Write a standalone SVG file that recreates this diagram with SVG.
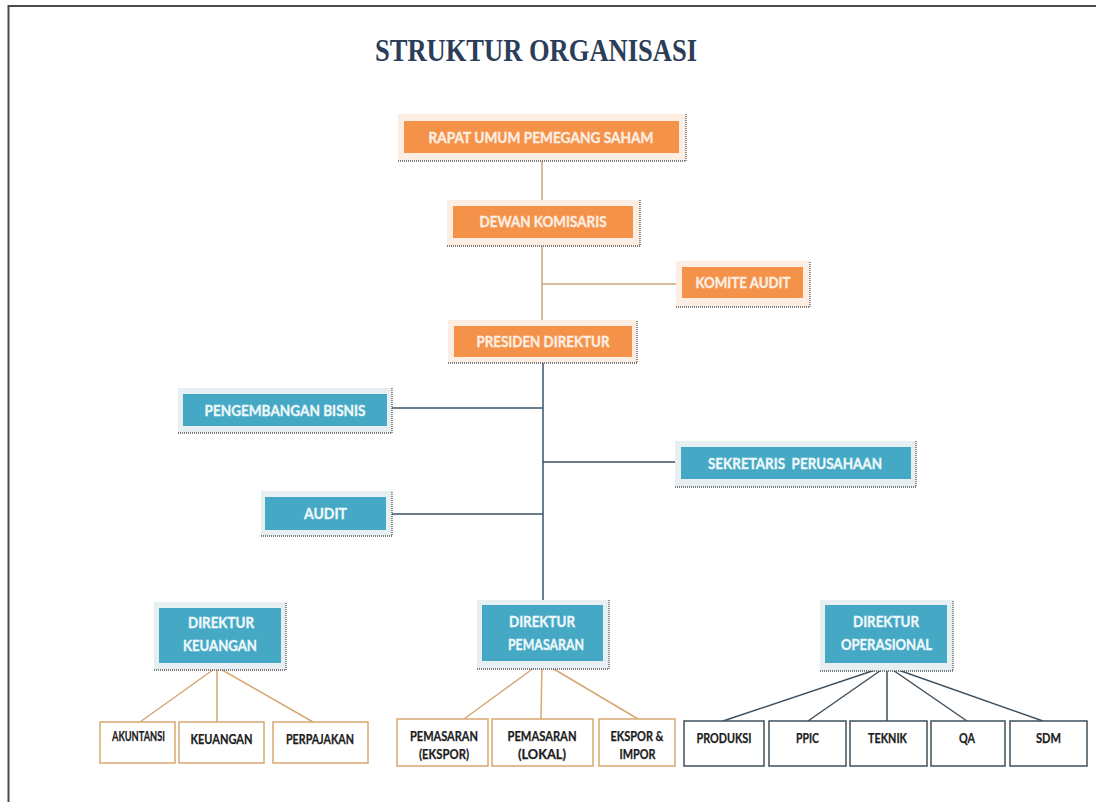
<svg xmlns="http://www.w3.org/2000/svg" width="1096" height="802" viewBox="0 0 1096 802">
  <style>
    .frame { fill: none; stroke: #4a4a4a; stroke-width: 2; }
    .title { font-family: "Liberation Serif", serif; font-weight: 700; font-size: 32px; fill: #2B3D58; text-anchor: middle; }
    .glowO { fill: #FCEEE3; }
    .glowB { fill: #E7EFF3; }
    .orange { fill: #F5924A; }
    .blue { fill: #45A8C4; }
    .dots { fill: none; stroke: #555555; stroke-width: 1.3; stroke-dasharray: 1 1; }
    .lbl { font-family: Lato, "Liberation Sans", sans-serif; font-weight: 700; font-size: 16px; text-anchor: middle; stroke-width: 0.35; }
    .lblO { fill: #FDEEE2; stroke: #FDEEE2; }
    .lblB { fill: #EEF8FB; stroke: #EEF8FB; }
    .boxT { fill: #ffffff; stroke: #D9A770; stroke-width: 1.5; }
    .boxD { fill: #ffffff; stroke: #3E505E; stroke-width: 1.5; }
    .ct { font-family: Lato, "Liberation Sans", sans-serif; font-weight: 700; font-size: 13px; fill: #1c1c1c; stroke: #1c1c1c; stroke-width: 0.25; text-anchor: middle; }
    .lnO { fill: none; stroke: #CDA57F; stroke-width: 1.5; }
    .lnB { fill: none; stroke: #3D5468; stroke-width: 1.5; }
    .lnT { fill: none; stroke: #D8A670; stroke-width: 1.5; }
    .lnD { fill: none; stroke: #3E505E; stroke-width: 1.5; }
  </style>

  <rect width="1096" height="802" fill="#ffffff"/>
  <path class="frame" d="M8.5 802 V6 H1096"/>

  <text class="title" x="536" y="61" textLength="322" lengthAdjust="spacingAndGlyphs">STRUKTUR ORGANISASI</text>

  <!-- connectors -->
  <g id="connectors">
    <path class="lnO" d="M542 161 V206 M542 246 V326 M542 284 H682"/>
    <path class="lnB" d="M543 363 V605 M392 408 H543 M543 462 H681 M392 514 H543"/>
    <path class="lnT" d="M217 667 L140 722 M217 667 V722 M217 667 L313 722"/>
    <path class="lnT" d="M542 662 L464 719 M542 662 L541 719 M542 662 L638 719"/>
    <path class="lnD" d="M887 666 L723 721 M887 666 L808 721 M887 666 V721 M887 666 L967 721 M887 666 L1043 721"/>
  </g>

  <!-- governance -->
  <g id="rups">
    <rect class="glowO" x="398" y="114" width="288" height="47"/>
    <rect class="orange" x="404" y="121" width="275" height="32"/>
    <path class="dots" d="M398 161 H686 V114"/>
    <text class="lbl lblO" x="541" y="143" textLength="225" lengthAdjust="spacingAndGlyphs">RAPAT UMUM PEMEGANG SAHAM</text>
  </g>
  <g id="dewan-komisaris">
    <rect class="glowO" x="447" y="200" width="193" height="46"/>
    <rect class="orange" x="453" y="206" width="180" height="32"/>
    <path class="dots" d="M447 246 H640 V200"/>
    <text class="lbl lblO" x="543" y="227" textLength="127" lengthAdjust="spacingAndGlyphs">DEWAN KOMISARIS</text>
  </g>
  <g id="komite-audit">
    <rect class="glowO" x="676" y="261" width="134" height="46"/>
    <rect class="orange" x="682" y="267" width="121" height="31"/>
    <path class="dots" d="M676 307 H810 V261"/>
    <text class="lbl lblO" x="743" y="288" textLength="95" lengthAdjust="spacingAndGlyphs">KOMITE AUDIT</text>
  </g>
  <g id="presiden-direktur">
    <rect class="glowO" x="448" y="320" width="189" height="43"/>
    <rect class="orange" x="454" y="326" width="178" height="31"/>
    <path class="dots" d="M448 363 H637 V320"/>
    <text class="lbl lblO" x="543" y="347" textLength="133" lengthAdjust="spacingAndGlyphs">PRESIDEN DIREKTUR</text>
  </g>

  <!-- staff units -->
  <g id="pengembangan-bisnis">
    <rect class="glowB" x="178" y="388" width="214" height="45"/>
    <rect class="blue" x="183" y="394" width="204" height="32"/>
    <path class="dots" d="M178 433 H392 V388"/>
    <text class="lbl lblB" x="285" y="416" textLength="161" lengthAdjust="spacingAndGlyphs">PENGEMBANGAN BISNIS</text>
  </g>
  <g id="sekretaris-perusahaan">
    <rect class="glowB" x="675" y="441" width="241" height="46"/>
    <rect class="blue" x="681" y="447" width="230" height="32"/>
    <path class="dots" d="M675 487 H916 V441"/>
    <text class="lbl lblB" x="795" y="469" textLength="174" lengthAdjust="spacingAndGlyphs" style="white-space:pre">SEKRETARIS  PERUSAHAAN</text>
  </g>
  <g id="audit">
    <rect class="glowB" x="261" y="491" width="131" height="45"/>
    <rect class="blue" x="265" y="497" width="121" height="33"/>
    <path class="dots" d="M261 536 H392 V491"/>
    <text class="lbl lblB" x="325.5" y="519" textLength="43" lengthAdjust="spacingAndGlyphs">AUDIT</text>
  </g>

  <!-- directors -->
  <g id="direktur-keuangan">
    <rect class="glowB" x="154" y="602" width="132" height="68"/>
    <rect class="blue" x="159" y="608" width="122" height="55"/>
    <path class="dots" d="M154 670 H286 V602"/>
    <text class="lbl lblB" x="221" y="628" textLength="66" lengthAdjust="spacingAndGlyphs">DIREKTUR</text>
    <text class="lbl lblB" x="220" y="651" textLength="74" lengthAdjust="spacingAndGlyphs">KEUANGAN</text>
  </g>
  <g id="direktur-pemasaran">
    <rect class="glowB" x="477" y="600" width="132" height="69"/>
    <rect class="blue" x="482" y="605" width="121" height="56"/>
    <path class="dots" d="M477 669 H609 V600"/>
    <text class="lbl lblB" x="542" y="627" textLength="66" lengthAdjust="spacingAndGlyphs">DIREKTUR</text>
    <text class="lbl lblB" x="546" y="650" textLength="76" lengthAdjust="spacingAndGlyphs">PEMASARAN</text>
  </g>
  <g id="direktur-operasional">
    <rect class="glowB" x="820" y="600" width="133" height="71"/>
    <rect class="blue" x="825" y="605" width="122" height="58"/>
    <path class="dots" d="M820 671 H953 V600"/>
    <text class="lbl lblB" x="886" y="627" textLength="66" lengthAdjust="spacingAndGlyphs">DIREKTUR</text>
    <text class="lbl lblB" x="886.5" y="650" textLength="91" lengthAdjust="spacingAndGlyphs">OPERASIONAL</text>
  </g>

  <!-- finance departments -->
  <g id="akuntansi">
    <rect class="boxT" x="100" y="722" width="75" height="41"/>
    <text class="ct" x="138.5" y="741" font-size="10" textLength="53" lengthAdjust="spacingAndGlyphs">AKUNTANSI</text>
  </g>
  <g id="keuangan">
    <rect class="boxT" x="179" y="722" width="85" height="41"/>
    <text class="ct" x="221.5" y="744" textLength="62" lengthAdjust="spacingAndGlyphs">KEUANGAN</text>
  </g>
  <g id="perpajakan">
    <rect class="boxT" x="273" y="722" width="95" height="41"/>
    <text class="ct" x="320" y="744" textLength="68" lengthAdjust="spacingAndGlyphs">PERPAJAKAN</text>
  </g>

  <!-- marketing departments -->
  <g id="pemasaran-ekspor">
    <rect class="boxT" x="397" y="719" width="91" height="47"/>
    <text class="ct" x="444" y="741" textLength="68" lengthAdjust="spacingAndGlyphs">PEMASARAN</text>
    <text class="ct" x="444" y="759" textLength="50" lengthAdjust="spacingAndGlyphs">(EKSPOR)</text>
  </g>
  <g id="pemasaran-lokal">
    <rect class="boxT" x="492" y="719" width="101" height="47"/>
    <text class="ct" x="542" y="741" textLength="69" lengthAdjust="spacingAndGlyphs">PEMASARAN</text>
    <text class="ct" x="542" y="759" textLength="48" lengthAdjust="spacingAndGlyphs">(LOKAL)</text>
  </g>
  <g id="ekspor-impor">
    <rect class="boxT" x="599" y="719" width="76" height="47"/>
    <text class="ct" x="637" y="741" textLength="53" lengthAdjust="spacingAndGlyphs">EKSPOR &amp;</text>
    <text class="ct" x="637.5" y="759" textLength="36" lengthAdjust="spacingAndGlyphs">IMPOR</text>
  </g>

  <!-- operations departments -->
  <g id="produksi">
    <rect class="boxD" x="684" y="721" width="80" height="45"/>
    <text class="ct" x="724" y="743" textLength="55" lengthAdjust="spacingAndGlyphs">PRODUKSI</text>
  </g>
  <g id="ppic">
    <rect class="boxD" x="769" y="721" width="77" height="45"/>
    <text class="ct" x="807.5" y="743" textLength="23" lengthAdjust="spacingAndGlyphs">PPIC</text>
  </g>
  <g id="teknik">
    <rect class="boxD" x="850" y="721" width="77" height="45"/>
    <text class="ct" x="887.5" y="743" textLength="39" lengthAdjust="spacingAndGlyphs">TEKNIK</text>
  </g>
  <g id="qa">
    <rect class="boxD" x="931" y="721" width="74" height="45"/>
    <text class="ct" x="967" y="743" textLength="16" lengthAdjust="spacingAndGlyphs">QA</text>
  </g>
  <g id="sdm">
    <rect class="boxD" x="1010" y="721" width="77" height="45"/>
    <text class="ct" x="1048.5" y="743" textLength="25" lengthAdjust="spacingAndGlyphs">SDM</text>
  </g>
</svg>
